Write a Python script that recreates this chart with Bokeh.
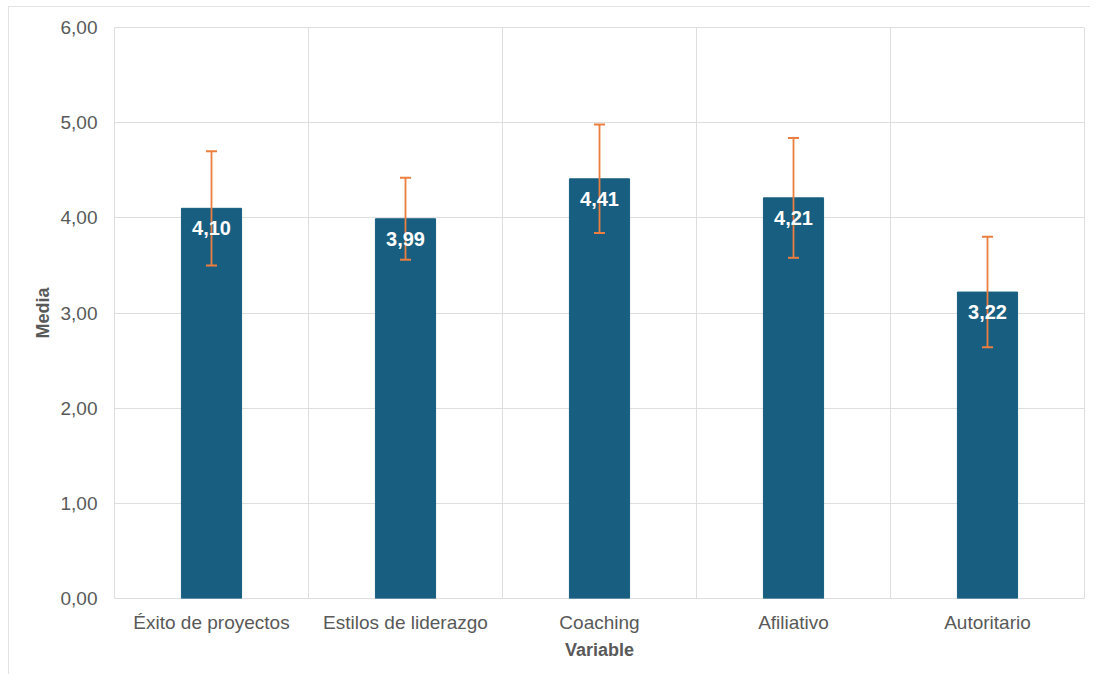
from bokeh.plotting import figure
from bokeh.models import FixedTicker, ColumnDataSource, Range1d
from bokeh.core.properties import value
from bokeh.embed import file_html
from bokeh.resources import INLINE

categories = ["Éxito de proyectos", "Estilos de liderazgo", "Coaching", "Afiliativo", "Autoritario"]
means = [4.10, 3.99, 4.41, 4.21, 3.22]
sds = [0.60, 0.43, 0.57, 0.63, 0.58]
labels = ["4,10", "3,99", "4,41", "4,21", "3,22"]
y_ticks = [0, 1, 2, 3, 4, 5, 6]
y_tick_labels = ["0,00", "1,00", "2,00", "3,00", "4,00", "5,00", "6,00"]

FONT = "Liberation Sans"
TXT = "#595959"
BAR = "#175E80"
ERR = "#EC7E3F"
GRID = "#DEDEDE"

xs = [i + 0.5 for i in range(len(categories))]
src = ColumnDataSource(dict(
    x=xs, top=means, lo=[m - s for m, s in zip(means, sds)],
    hi=[m + s for m, s in zip(means, sds)], lab=labels))

p = figure(frame_width=970, frame_height=571, output_backend="svg", toolbar_location=None,
           x_range=Range1d(0, len(categories)), y_range=Range1d(0, 6),
           min_border_left=105, min_border_right=6, min_border_top=20, min_border_bottom=76)
p.styles = {"border-left": "1px solid #E3E3E3", "border-top": "1px solid #E3E3E3",
            "margin-left": "8px", "margin-top": "6px"}

p.vbar(x="x", top="top", width=0.31, bottom=0, source=src, fill_color=BAR, line_color=BAR)
p.segment(x0="x", y0="lo", x1="x", y1="hi", source=src, line_color=ERR, line_width=1.8)
p.scatter(x="x", y="lo", source=src, marker="dash", size=11, line_color=ERR, line_width=2)
p.scatter(x="x", y="hi", source=src, marker="dash", size=11, line_color=ERR, line_width=2)
p.text(x="x", y="top", text="lab", source=src, text_color="white", text_font=value(FONT),
       text_font_size="20px", text_font_style="bold", text_align="center",
       text_baseline="middle", y_offset=20)

# axes
p.xaxis.ticker = FixedTicker(ticks=xs)
p.xaxis.major_label_overrides = {x: c for x, c in zip(xs, categories)}
p.yaxis.ticker = FixedTicker(ticks=y_ticks)
p.yaxis.major_label_overrides = {t: l for t, l in zip(y_ticks, y_tick_labels)}
for ax in (p.xaxis[0], p.yaxis[0]):
    ax.axis_line_color = None
    ax.major_tick_line_color = None
    ax.minor_tick_line_color = None
    ax.major_label_text_font = FONT
    ax.major_label_text_font_size = "19px"
    ax.major_label_text_color = TXT
    ax.axis_label_text_font = FONT
    ax.axis_label_text_font_size = "18px"
    ax.axis_label_text_font_style = "bold"
    ax.axis_label_text_color = TXT
p.xaxis.axis_label = "Variable"
p.yaxis.axis_label = "Media"
p.xaxis.major_label_standoff = 7
p.xaxis.axis_label_standoff = 4
p.yaxis.major_label_standoff = 11
p.yaxis.axis_label_standoff = 5

p.xgrid.ticker = FixedTicker(ticks=list(range(len(categories) + 1)))
p.xgrid.grid_line_color = GRID
p.ygrid.grid_line_color = GRID
p.outline_line_color = GRID

open("out.html", "w").write(file_html(p, INLINE))
